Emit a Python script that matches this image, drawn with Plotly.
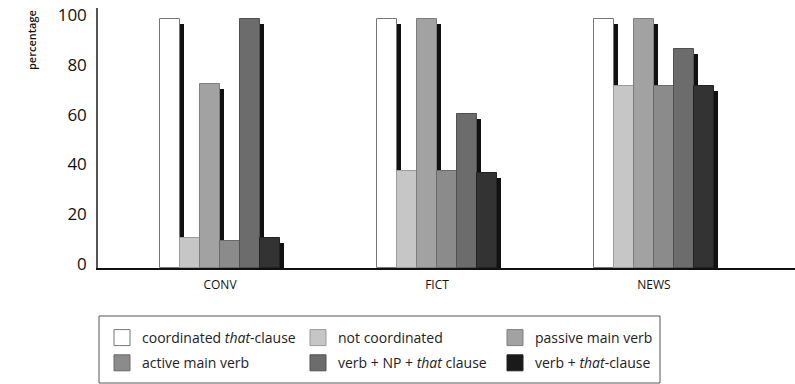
import plotly.graph_objects as go

categories = ["CONV", "FICT", "NEWS"]
series_names = [
    "coordinated <i>that</i>-clause",
    "not coordinated",
    "passive main verb",
    "active main verb",
    "verb + NP + <i>that</i> clause",
    "verb + <i>that</i>-clause",
]
coordinated = [100, 100, 100]
not_coordinated = [12, 39, 73]
passive_main_verb = [74, 100, 100]
active_main_verb = [11, 39, 73]
verb_np_that = [100, 62, 88]
verb_that = [12, 38, 73]
values = [coordinated, not_coordinated, passive_main_verb,
          active_main_verb, verb_np_that, verb_that]
y_ticks = [0, 20, 40, 60, 80, 100]

colors = ["#ffffff", "#c6c6c6", "#a2a2a2", "#8b8b8b", "#6c6c6c", "#333333"]
legend_colors = ["#ffffff", "#c6c6c6", "#a2a2a2", "#8b8b8b", "#6c6c6c", "#1a1a1a"]
line_colors = ["#777777", "#9a9a9a", "#7e7e7e", "#6a6a6a", "#505050", "#222222"]
legend_ids = ["legend", "legend2", "legend3", "legend", "legend2", "legend3"]

W, H = 795, 384
L, R, T, B = 98, 0, 8, 116
plot_w = W - L - R
plot_h = H - T - B
px_per_unit = 217.0
x_center0 = 220 - L
x_range = [-x_center0 / px_per_unit, (plot_w - x_center0) / px_per_unit]
bw = 20 / px_per_unit
shadow_dx = 4 / px_per_unit
x_pos = list(range(len(categories)))


def px_x(px):
    return (px - L) / plot_w


def px_y(py):
    return (H - B - py) / plot_h


fig = go.Figure()
for i, (name, vals) in enumerate(zip(series_names, values)):
    off = -3 * bw + i * bw
    # dark drop shadow behind each bar
    fig.add_trace(go.Bar(
        x=x_pos, y=[v - 2 for v in vals], width=bw, offset=off + shadow_dx,
        marker=dict(color="#111111", line=dict(width=0)),
        showlegend=False, hoverinfo="skip",
    ))
    fig.add_trace(go.Bar(
        x=x_pos, y=vals, width=bw, offset=off, name=name,
        marker=dict(color=colors[i], line=dict(color=line_colors[i], width=1)),
        showlegend=False, legendgroup=f"g{i}",
    ))

# legend entries (larger square swatches)
for i, name in enumerate(series_names):
    fig.add_trace(go.Scatter(
        x=[None], y=[None], mode="markers", name=name,
        marker=dict(symbol="square", size=16, color=legend_colors[i],
                    line=dict(color=line_colors[i], width=1)),
        legend=legend_ids[i], legendgroup=f"g{i}", showlegend=True,
    ))

font_family = "Open Sans, Noto Sans, sans-serif"
leg_font = dict(family=font_family, size=14, color="#222222")
leg_common = dict(orientation="v", yanchor="top", xanchor="left",
                  bgcolor="rgba(0,0,0,0)", borderwidth=0, font=leg_font,
                  tracegroupgap=4, itemclick=False, itemdoubleclick=False)
ytop = px_y(322)
fig.update_layout(
    width=W, height=H,
    margin=dict(l=L, r=R, t=T, b=B, autoexpand=False),
    paper_bgcolor="white", plot_bgcolor="white",
    barmode="overlay",
    bargap=0,
    showlegend=True,
    legend=dict(x=px_x(102), y=ytop, **leg_common),
    legend2=dict(x=px_x(298), y=ytop, **leg_common),
    legend3=dict(x=px_x(495), y=ytop, **leg_common),
    xaxis=dict(
        range=x_range, tickvals=x_pos, ticktext=categories,
        showgrid=False, zeroline=False, showline=True,
        linecolor="#111111", linewidth=2, ticks="",
        tickfont=dict(family=font_family, size=12, color="#111111"),
        ticklabelstandoff=5,
    ),
    yaxis=dict(
        range=[0, 104.4], tickvals=y_ticks,
        showgrid=False, zeroline=False, showline=True,
        linecolor="#555555", linewidth=1.5, ticks="",
        tickfont=dict(family=font_family, size=17, color="#111111"),
        ticklabelstandoff=6, ticklabelshift=-4,
    ),
    shapes=[dict(
        type="rect", xref="paper", yref="paper",
        x0=px_x(99), x1=px_x(660),
        y0=px_y(316), y1=px_y(383),
        line=dict(color="#555555", width=1), fillcolor="rgba(0,0,0,0)", layer="below",
    )],
    annotations=[dict(
        text="percentage", xref="paper", yref="paper",
        x=px_x(31), y=px_y(40),
        textangle=-90, showarrow=False, xanchor="center", yanchor="middle",
        font=dict(family=font_family, size=11, color="#111111", weight=600),
    )],
)

fig.write_html(
    "out.html",
    config={"displayModeBar": False},
    post_script="document.body.style.margin='0px';document.body.style.overflow='hidden';",
)
